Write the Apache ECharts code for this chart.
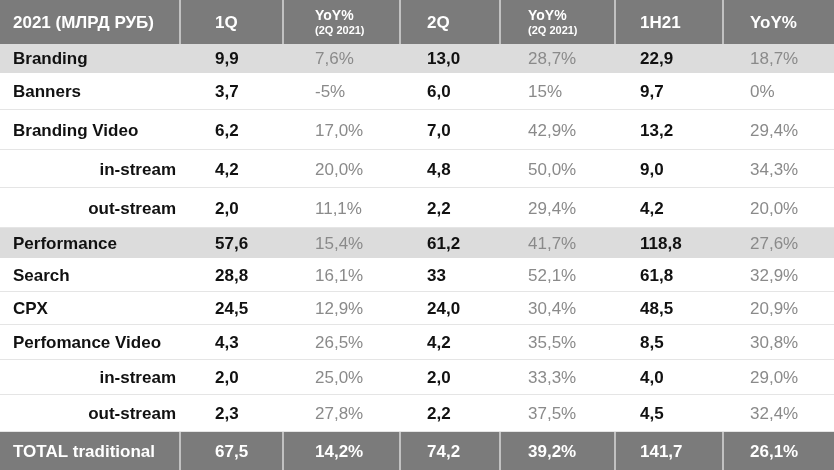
<!DOCTYPE html>
<html>
<head>
<meta charset="utf-8">
<script src="https://cdn.jsdelivr.net/npm/echarts@6/dist/echarts.min.js"></script>
<style>html,body{margin:0;padding:0;background:#fff}#main{width:834px;height:470px}</style>
</head>
<body>
<div id="main"></div>
<script>
// table contents
var headers = ['2021 (МЛРД РУБ)', '1Q', 'YoY%', '2Q', 'YoY%', '1H21', 'YoY%'];
var headerSubs = ['', '', '(2Q 2021)', '', '(2Q 2021)', '', ''];
var rowLabels = ['Branding', 'Banners', 'Branding Video', 'in-stream', 'out-stream', 'Performance', 'Search', 'CPX', 'Perfomance Video', 'in-stream', 'out-stream', 'TOTAL traditional'];
var q1 = ['9,9', '3,7', '6,2', '4,2', '2,0', '57,6', '28,8', '24,5', '4,3', '2,0', '2,3', '67,5'];
var yoyQ1 = ['7,6%', '-5%', '17,0%', '20,0%', '11,1%', '15,4%', '16,1%', '12,9%', '26,5%', '25,0%', '27,8%', '14,2%'];
var q2 = ['13,0', '6,0', '7,0', '4,8', '2,2', '61,2', '33', '24,0', '4,2', '2,0', '2,2', '74,2'];
var yoyQ2 = ['28,7%', '15%', '42,9%', '50,0%', '29,4%', '41,7%', '52,1%', '30,4%', '35,5%', '33,3%', '37,5%', '39,2%'];
var h1 = ['22,9', '9,7', '13,2', '9,0', '4,2', '118,8', '61,8', '48,5', '8,5', '4,0', '4,5', '141,7'];
var yoyH1 = ['18,7%', '0%', '29,4%', '34,3%', '20,0%', '27,6%', '32,9%', '20,9%', '30,8%', '29,0%', '32,4%', '26,1%'];
var rowKind = ['group', 'plain', 'plain', 'sub', 'sub', 'group', 'plain', 'plain', 'plain', 'sub', 'sub', 'total'];

// layout
var colEdges = [0, 180, 283, 400, 500, 615, 723, 834];
var textX = [13, 215, 315, 427, 528, 640, 750];
var rowEdges = [0, 44, 73, 110, 150, 188, 228, 258, 292, 325, 360, 395, 432, 470];

var columns = [rowLabels, q1, yoyQ1, q2, yoyQ2, h1, yoyH1];
var cells = [];
for (var c = 0; c < headers.length; c++) cells.push([c, 0, headers[c], headerSubs[c]]);
for (var r = 0; r < rowLabels.length; r++) {
  for (var c2 = 0; c2 < columns.length; c2++) cells.push([c2, r + 1, columns[c2][r], '']);
}

var FONT = '"Liberation Sans", Arial, sans-serif';

function renderCell(params, api) {
  var c = api.value(0), r = api.value(1);
  var txt = cells[params.dataIndex][2], sub = cells[params.dataIndex][3];
  var p0 = api.coord([colEdges[c], rowEdges[r]]);
  var p1 = api.coord([colEdges[c + 1], rowEdges[r + 1]]);
  var x = p0[0], y = p0[1], w = p1[0] - p0[0], h = p1[1] - p0[1];
  var kind = r === 0 ? 'header' : rowKind[r - 1];
  var dark = kind === 'header' || kind === 'total';
  var fill = dark ? '#7b7b7b' : (kind === 'group' ? '#dcdcdc' : '#ffffff');
  var children = [{ type: 'rect', shape: { x: x, y: y, width: w, height: h }, style: { fill: fill } }];
  if (dark && c > 0) {
    children.push({ type: 'line', shape: { x1: x, y1: y, x2: x, y2: y + h }, style: { stroke: '#d8d8d8', lineWidth: 1.5 } });
  }
  if (!dark && kind !== 'group' && r < rowEdges.length - 2) {
    children.push({ type: 'line', shape: { x1: x, y1: y + h, x2: x + w, y2: y + h }, style: { stroke: '#dddddd', lineWidth: 1.5 } });
  }
  var isYoy = c === 2 || c === 4 || c === 6;
  var color = dark ? '#ffffff' : (isYoy ? '#8a8a8a' : '#111111');
  var weight = (dark || !isYoy) ? 'bold' : 'normal';
  var tx = textX[c], align = 'left';
  if (c === 0 && kind === 'sub') { tx = 176; align = 'right'; }
  if (sub) {
    children.push({ type: 'text', style: { x: tx, y: y + h / 2 - 6, text: txt, fill: color, font: 'bold 14px ' + FONT, textAlign: align, textVerticalAlign: 'middle' } });
    children.push({ type: 'text', style: { x: tx, y: y + h / 2 + 9, text: sub, fill: color, font: 'bold 11px ' + FONT, textAlign: align, textVerticalAlign: 'middle' } });
  } else {
    children.push({ type: 'text', style: { x: tx, y: y + h / 2 + 1, text: txt, fill: color, font: weight + ' 17px ' + FONT, textAlign: align, textVerticalAlign: 'middle' } });
  }
  return { type: 'group', children: children };
}

var chart = echarts.init(document.getElementById('main'), null, { renderer: 'canvas' });
chart.setOption({
  animation: false,
  backgroundColor: '#ffffff',
  grid: { left: 0, right: 0, top: 0, bottom: 0 },
  xAxis: { type: 'value', min: 0, max: 834, show: false },
  yAxis: { type: 'value', min: 0, max: 470, inverse: true, show: false },
  series: [{
    type: 'custom',
    renderItem: renderCell,
    data: cells.map(function (d) { return [d[0], d[1]]; })
  }]
});
</script>
</body>
</html>
